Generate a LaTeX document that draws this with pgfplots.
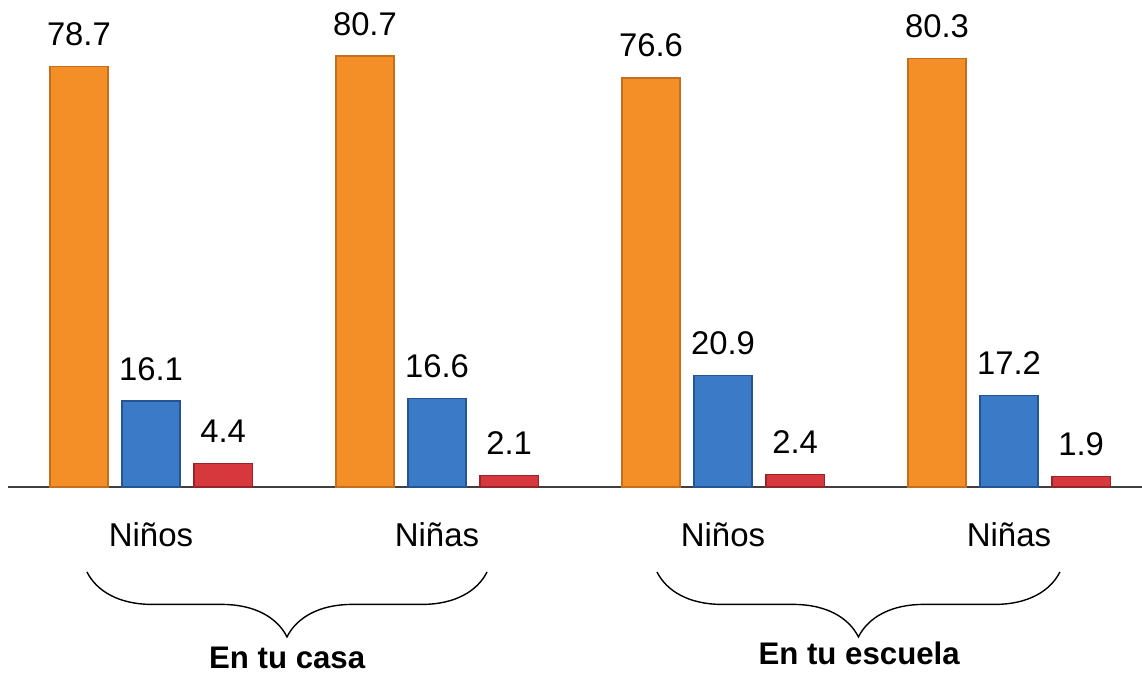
\documentclass[border=0pt]{standalone}
\usepackage{fontspec}
\setmainfont{Liberation Sans}
\usepackage{pgfplots}
\pgfplotsset{compat=1.18}
\usetikzlibrary{decorations.pathreplacing}
\definecolor{cor}{RGB}{243,143,38}
\definecolor{corD}{RGB}{196,110,30}
\definecolor{cbl}{RGB}{58,122,198}
\definecolor{cblD}{RGB}{36,84,146}
\definecolor{cre}{RGB}{214,56,62}
\definecolor{creD}{RGB}{150,36,40}
\begin{document}
\begin{tikzpicture}
\begin{axis}[name=ax, scale only axis, width=567pt, height=243.5pt,
  xmin=-0.5, xmax=3.465, ymin=0, ymax=91.2,
  axis x line=bottom, axis y line=none,
  axis line style={-, draw=black!75, line width=0.6pt},
  xtick=\empty, ytick=\empty, clip=false,
  ybar, bar width=0.203, bar shift=0pt,
  nodes near coords,
  nodes near coords style={font=\fontsize{16.4}{18}\selectfont, anchor=base, inner sep=0pt, yshift=10.5pt},
  /pgf/number format/.cd, fixed, fixed zerofill, precision=1, assume math mode=true]
\addplot[fill=cor, draw=corD, line width=0.6pt] coordinates {(-0.252,78.7) (0.748,80.7) (1.748,76.6) (2.748,80.3)};
\addplot[fill=cbl, draw=cblD, line width=0.6pt] coordinates {(0,16.1) (1,16.6) (2,20.9) (3,17.2)};
\addplot[fill=cre, draw=creD, line width=0.6pt] coordinates {(0.252,4.4) (1.252,2.1) (2.252,2.4) (3.252,1.9)};
\foreach \x/\t in {0/Niños,1/Niñas,2/Niños,3/Niñas}{
  \edef\tmp{\noexpand\node[anchor=base, inner sep=0pt, font=\noexpand\fontsize{16.5}{18}\noexpand\selectfont] at (axis cs:\x,-11.2) {\t};}
  \tmp
}
\draw[line width=0.7pt, decorate, decoration={brace, mirror, amplitude=32.5pt}] (axis cs:-0.224,-15.9) -- (axis cs:1.175,-15.9);
\draw[line width=0.7pt, decorate, decoration={brace, mirror, amplitude=32.5pt}] (axis cs:1.769,-15.9) -- (axis cs:3.178,-15.9);
\node[anchor=base, inner sep=0pt, font=\bfseries\fontsize{15.6}{18}\selectfont] at (axis cs:0.476,-34.0) {En tu casa};
\node[anchor=base, inner sep=0pt, font=\bfseries\fontsize{15.6}{18}\selectfont] at (axis cs:2.476,-33.3) {En tu escuela};
\end{axis}
\pgfresetboundingbox
\path (ax.south west) ++(-4pt,-93.5pt) rectangle (ax.north east);
\end{tikzpicture}
\end{document}
